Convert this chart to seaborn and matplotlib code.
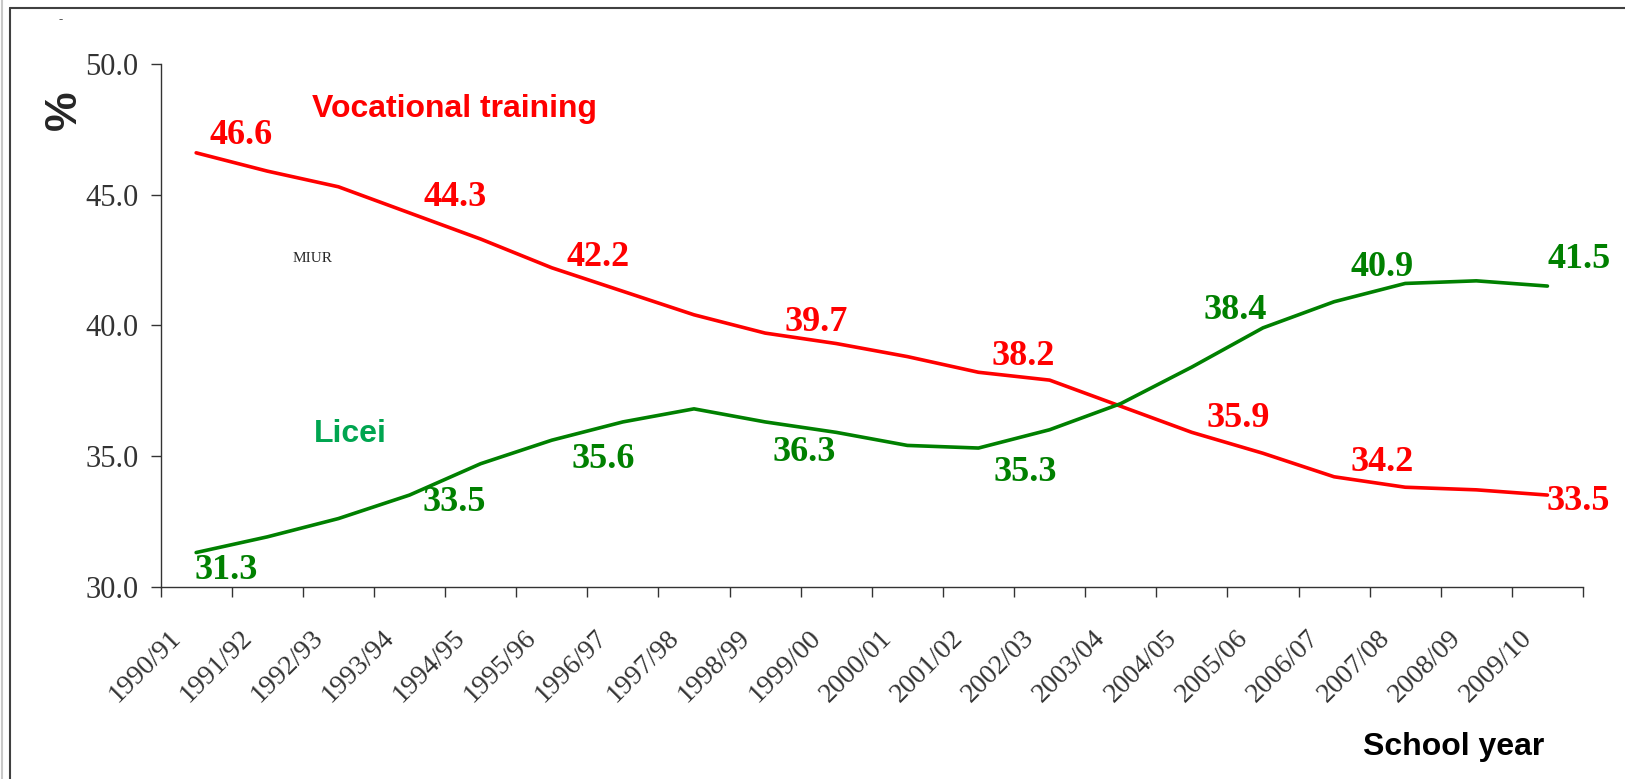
import matplotlib
matplotlib.use("Agg")
import matplotlib.pyplot as plt
import matplotlib.transforms as mtransforms
from matplotlib.lines import Line2D
import seaborn as sns
import pandas as pd

# data
years = ["1990/91", "1991/92", "1992/93", "1993/94", "1994/95", "1995/96", "1996/97",
         "1997/98", "1998/99", "1999/00", "2000/01", "2001/02", "2002/03", "2003/04",
         "2004/05", "2005/06", "2006/07", "2007/08", "2008/09", "2009/10"]
vocational = [46.6, 45.9, 45.3, 44.3, 43.3, 42.2, 41.3, 40.4, 39.7, 39.3,
              38.8, 38.2, 37.9, 36.9, 35.9, 35.1, 34.2, 33.8, 33.7, 33.5]
licei = [31.3, 31.9, 32.6, 33.5, 34.7, 35.6, 36.3, 36.8, 36.3, 35.9,
         35.4, 35.3, 36.0, 37.0, 38.4, 39.9, 40.9, 41.6, 41.7, 41.5]
label_idx = [0, 3, 5, 8, 11, 14, 16, 19]

# where the value labels sit relative to their point (pixels, x right / y up)
voc_offsets = [(45, 17), (46, 15), (46, 10), (51, 11), (45, 16), (46, 14), (48, 14), (31, -6)]
lic_offsets = [(30, -18), (45, -7), (51, -19), (39, -31), (47, -24), (43, 57), (48, 34), (32, 27)]

red = "#FF0000"
green = "#008000"

df = pd.DataFrame({"year": years, "vocational": vocational, "licei": licei})

sns.set_style("ticks")
plt.rcParams["font.family"] = ["Liberation Serif", "DejaVu Serif"]

fig = plt.figure(figsize=(16.25, 7.79), dpi=100)
ax = fig.add_axes([160.6 / 1625, 1 - 586.5 / 779, (1583 - 160.6) / 1625, (586.5 - 64) / 779])

sns.lineplot(data=df, x="year", y="vocational", color=red, linewidth=2.6, ax=ax)
sns.lineplot(data=df, x="year", y="licei", color=green, linewidth=2.6, ax=ax)

ax.set_xlim(-0.5, 19.5)
ax.set_ylim(30, 50)
ax.set_yticks([30, 35, 40, 45, 50])
ax.yaxis.set_major_formatter("{x:.1f}")
ax.set_xticks(range(len(years)))
ax.set_xticklabels(years)
ax.set_xticks([i - 0.5 for i in range(len(years) + 1)], minor=True)
ax.set_xlabel("")
ax.set_ylabel("")

ax.tick_params(axis="x", which="major", length=0, pad=28, labelsize=20, colors="#333333")
ax.tick_params(axis="x", which="minor", length=7, width=1, color="#333333")
ax.tick_params(axis="y", length=7, width=1, pad=9, labelsize=22, colors="#333333")
for lab in ax.get_xticklabels():
    lab.set_rotation(45)
    lab.set_ha("right")
    lab.set_va("top")
    lab.set_rotation_mode("anchor")
    lab.set_transform(lab.get_transform() + mtransforms.ScaledTranslation(-28 / 100, 0, fig.dpi_scale_trans))

for s in ["top", "right"]:
    ax.spines[s].set_visible(False)
for s in ["left", "bottom"]:
    ax.spines[s].set_color("#333333")
    ax.spines[s].set_linewidth(1)

for i, (dx, dy) in zip(label_idx, voc_offsets):
    ax.annotate(f"{vocational[i]:.1f}", xy=(i, vocational[i]), xytext=(dx, dy),
                textcoords="offset pixels", ha="center", va="center",
                fontsize=26, fontweight="bold", color=red)
for i, (dx, dy) in zip(label_idx, lic_offsets):
    ax.annotate(f"{licei[i]:.1f}", xy=(i, licei[i]), xytext=(dx, dy),
                textcoords="offset pixels", ha="center", va="center",
                fontsize=26, fontweight="bold", color=green)

sans = ["Liberation Sans", "DejaVu Sans"]
fig.text(312 / 1625, 1 - 117 / 779, "Vocational training", family=sans, fontsize=23,
         fontweight="bold", color=red, ha="left", va="baseline")
fig.text(314 / 1625, 1 - 442 / 779, "Licei", family=sans, fontsize=23,
         fontweight="bold", color="#00A550", ha="left", va="baseline")
fig.text(1363 / 1625, 1 - 755 / 779, "School year", family=sans, fontsize=23,
         fontweight="bold", color="black", ha="left", va="baseline")
fig.text(64 / 1625, 1 - 110 / 779, "%", family=sans, fontsize=32, fontweight="bold",
         rotation=90, ha="center", va="center")
fig.text(293 / 1625, 1 - 258 / 779, "MIUR", fontsize=11, ha="left", va="center")
fig.text(61 / 1625, 1 - 20 / 779, "-", fontsize=9, ha="center", va="center", color="#555555")

# slide frame
fig.add_artist(Line2D([10 / 1625, 1], [1 - 8 / 779, 1 - 8 / 779], color="#404040", lw=1.5))
fig.add_artist(Line2D([10 / 1625, 10 / 1625], [0, 1 - 8 / 779], color="#404040", lw=1.5))
fig.add_artist(Line2D([2 / 1625, 2 / 1625], [0, 1], color="#c8c8c8", lw=1.5))

fig.savefig("out.png", dpi=100)
